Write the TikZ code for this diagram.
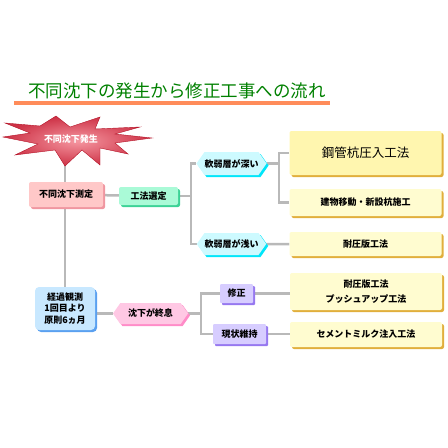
\documentclass[tikz,border=0pt]{standalone}
\usepackage{fontspec}
\setmainfont{Noto Sans CJK JP}
\usetikzlibrary{shapes.symbols,shadows,backgrounds}
\definecolor{titelgruen}{RGB}{0,128,0}
\definecolor{strich}{RGB}{255,140,90}
\definecolor{linie}{RGB}{185,185,185}
\definecolor{rosa}{RGB}{255,200,200}
\definecolor{rosaS}{RGB}{240,150,160}
\definecolor{mint}{RGB}{170,250,215}
\definecolor{mintS}{RGB}{60,210,150}
\definecolor{tuerkis}{RGB}{205,250,255}
\definecolor{tuerkisS}{RGB}{0,230,250}
\definecolor{gelb}{RGB}{255,246,175}
\definecolor{hellgelb}{RGB}{255,252,208}
\definecolor{gelbS}{RGB}{225,175,60}
\definecolor{blau}{RGB}{200,232,255}
\definecolor{blauS}{RGB}{90,160,240}
\definecolor{pink}{RGB}{255,200,228}
\definecolor{pinkS}{RGB}{255,140,200}
\definecolor{lila}{RGB}{215,205,255}
\definecolor{lilaS}{RGB}{150,120,240}
\definecolor{sternrand}{RGB}{180,20,40}
\definecolor{sterninnen}{RGB}{245,150,160}
\definecolor{sternaussen}{RGB}{205,50,70}
\begin{document}
\begin{tikzpicture}[x=1pt,y=-1pt,
    conn/.style={draw=linie,line width=2.5pt},
    kasten/.style={rectangle,rounded corners=2pt,inner sep=0pt,align=center,
        font=\fontsize{9}{11.5}\selectfont\bfseries,
        drop shadow={shadow xshift=2pt,shadow yshift=-2pt,fill=#1,opacity=1}},
    sechseck/.style={signal,signal to=east and west,signal pointer angle=110,
        inner sep=0pt,font=\fontsize{9}{11}\selectfont\bfseries,
        drop shadow={shadow xshift=2pt,shadow yshift=-2pt,fill=#1,opacity=1}},
    gkasten/.style={kasten=gelbS,fill=hellgelb,minimum width=152pt}]
    \useasboundingbox (0,0) rectangle (448,448);
    % Titel
    \node (titel) at (177,91) {\fontsize{17.5}{18}\selectfont\color{titelgruen}不同沈下の発生から修正工事への流れ};
    \draw [strich,line width=4pt] (14,103) -- (330,103);
    % Stern
    \shade [draw=sternrand,inner color=sterninnen,outer color=sternaussen]
        (3,137) -- (30,133) -- (5,123) -- (40,126) -- (56,116) -- (70,127)
        -- (100,117) -- (95,129) -- (140,127) -- (115,134) -- (152,138)
        -- (115,143) -- (128,154) -- (100,148) -- (100,165) -- (82,150)
        -- (65,166) -- (55,150) -- (15,155) -- (38,144) -- cycle;
    \node (hassei) at (71,139) {\fontsize{9}{11}\selectfont\bfseries\color{white}不同沈下発生};
    % Kaesten
    \node [kasten=rosaS,fill=rosa,minimum width=74pt,minimum height=25pt] (sokutei) at (66,194.5) {不同沈下測定};
    \node [kasten=mintS,fill=mint,minimum width=59pt,minimum height=18pt] (sentei) at (148.5,196) {工法選定};
    \node [sechseck=tuerkisS,fill=tuerkis,minimum width=63pt,minimum height=23pt] (fukai) at (231.5,163.5) {軟弱層が深い};
    \node [sechseck=tuerkisS,fill=tuerkis,minimum width=63pt,minimum height=22pt] (asai) at (231.5,244) {軟弱層が浅い};
    \node [kasten=gelbS,fill=gelb,minimum width=152pt,minimum height=44pt,font=\fontsize{12.5}{14}\selectfont] (koukan) at (365.5,153) {鋼管杭圧入工法};
    \node [gkasten,minimum height=27pt] (tatemono) at (365.5,202.5) {建物移動・新設杭施工};
    \node [gkasten,minimum height=24pt] (taiatsu) at (365.5,244) {耐圧版工法};
    \node [kasten=blauS,fill=blau,rounded corners=4pt,minimum width=60pt,minimum height=43pt] (kansoku) at (65,308.5) {経過観測\\1回目より\\原則6ヵ月};
    \node [sechseck=pinkS,fill=pink,minimum width=75pt,minimum height=21pt] (shuusoku) at (150.5,313.5) {沈下が終息};
    \node [kasten=lilaS,fill=lila,rounded corners=1pt,minimum width=33pt,minimum height=19pt] (shuusei) at (236.5,293.5) {修正};
    \node [kasten=lilaS,fill=lila,rounded corners=1pt,minimum width=53pt,minimum height=20pt] (iji) at (239.5,334) {現状維持};
    \node [gkasten,minimum height=37pt,font=\fontsize{9}{15}\selectfont\bfseries] (push) at (366,291.5) {耐圧版工法\\プッシュアップ工法};
    \node [gkasten,minimum height=25pt] (semento) at (366,334.5) {セメントミルク注入工法};
    % Linien
    \begin{scope}[on background layer]
        \draw [conn] (hassei.center -| kansoku) -- (kansoku);
        \draw [conn] (sokutei) -- (sentei);
        \draw [conn] (sentei.east) -- ++(13,0) |- (fukai.west);
        \draw [conn] (sentei.east) -- ++(13,0) |- (asai.west);
        \draw [conn] (fukai.east) -- ++(12,0) |- (koukan.west);
        \draw [conn] (fukai.east) -- ++(12,0) |- (tatemono.west);
        \draw [conn] (asai) -- (taiatsu);
        \draw [conn] (shuusoku.west -| kansoku.east) -- (shuusoku.west);
        \draw [conn] (shuusoku.east) -- ++(13,0) |- (shuusei.west);
        \draw [conn] (shuusoku.east) -- ++(13,0) |- (iji.west);
        \draw [conn] (shuusei.east) -- (shuusei.east -| push.west);
        \draw [conn] (iji.east) -- (iji.east -| semento.west);
    \end{scope}
\end{tikzpicture}
\end{document}
